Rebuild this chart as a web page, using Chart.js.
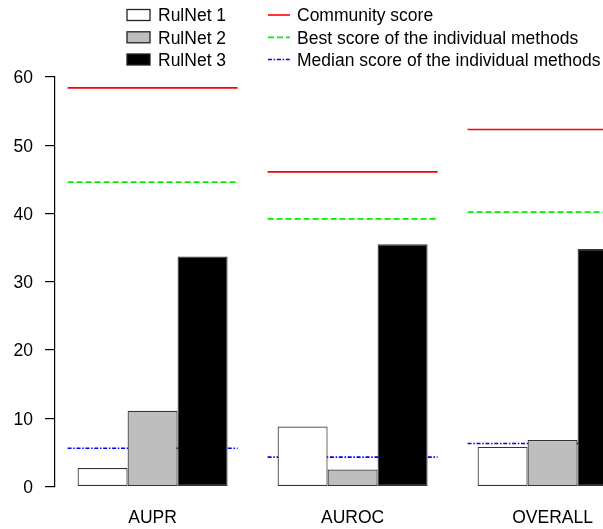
<!DOCTYPE html>
<html>
<head>
<meta charset="utf-8">
<script src="https://cdn.jsdelivr.net/npm/chart.js@4"></script>
<style>
  html, body { margin: 0; padding: 0; overflow: hidden; background: #fff; }
  #wrap { position: relative; width: 655px; height: 529px; }
</style>
</head>
<body>
<div id="wrap"><canvas id="chart"></canvas></div>
<script>
// values
const categories = ['AUPR', 'AUROC', 'OVERALL'];
const rulnet1 = [2.7, 8.8, 5.8];
const rulnet2 = [11.1, 2.5, 6.8];
const rulnet3 = [33.7, 35.5, 34.8];
const communityScore = [58.4, 46.1, 52.3];
const bestIndividual = [44.6, 39.2, 40.2];
const medianIndividual = [5.6, 4.3, 6.3];
const yMin = 0, yMax = 60, yStep = 10;

const FONT = '"Liberation Sans", Arial, Helvetica, sans-serif';
Chart.defaults.font.family = FONT;
Chart.defaults.color = '#000';

// everything sits on one linear x axis: category i at x = i
const points = (vals) => vals.map((v, i) => ({ x: i, y: v }));
// horizontal segment across each group, slightly wider than the bars
const segments = (vals) => {
    const pts = [];
    vals.forEach((v, i) => {
        pts.push({ x: i - 0.425, y: v }, { x: i + 0.425, y: v }, { x: i + 0.5, y: null });
    });
    return pts;
};

// R-style legend: filled boxes in the left column, line samples in the right one
const rLegend = {
    id: 'rLegend',
    afterDraw(chart) {
        const ctx = chart.ctx;
        const rows = [15, 37.3, 59.5];
        ctx.save();
        ctx.font = '17.5px ' + FONT;
        ctx.textBaseline = 'middle';
        let bi = 0, li = 0;
        chart.data.datasets.forEach(ds => {
            if (ds.type === 'line') {
                const y = rows[li++];
                ctx.strokeStyle = ds.borderColor;
                ctx.lineWidth = ds.borderWidth;
                ctx.setLineDash(ds.borderDash || []);
                ctx.beginPath();
                ctx.moveTo(268, y);
                ctx.lineTo(290, y);
                ctx.stroke();
                ctx.setLineDash([]);
                ctx.fillStyle = '#000';
                ctx.fillText(ds.label, 297, y + 1.5);
            } else {
                const y = rows[bi++];
                ctx.fillStyle = ds.backgroundColor;
                ctx.fillRect(127, y - 5.5, 23, 11);
                ctx.strokeStyle = '#222';
                ctx.lineWidth = 1.3;
                ctx.strokeRect(127, y - 5.5, 23, 11);
                ctx.fillStyle = '#000';
                ctx.fillText(ds.label, 158, y + 1.5);
            }
        });
        ctx.restore();
    }
};

const barStyle = { type: 'bar', borderColor: '#333', borderWidth: 1.2, borderSkipped: false,
                   categoryPercentage: 0.75, barPercentage: 1 };
const lineStyle = { type: 'line', pointRadius: 0, spanGaps: false, fill: false };

new Chart(document.getElementById('chart'), {
    type: 'bar',
    data: {
        datasets: [
            { label: 'RulNet 1', data: points(rulnet1), backgroundColor: '#ffffff', ...barStyle },
            { label: 'RulNet 2', data: points(rulnet2), backgroundColor: '#bebebe', ...barStyle },
            { label: 'RulNet 3', data: points(rulnet3), backgroundColor: '#000000', ...barStyle },
            { label: 'Community score', data: segments(communityScore),
              borderColor: '#ff0000', borderWidth: 1.6, ...lineStyle },
            { label: 'Best score of the individual methods', data: segments(bestIndividual),
              borderColor: '#00ee00', borderWidth: 1.8, borderDash: [6, 3], ...lineStyle },
            { label: 'Median score of the individual methods', data: segments(medianIndividual),
              borderColor: '#0000ff', borderWidth: 1.6, borderDash: [4, 1.7, 1.5, 1.7], ...lineStyle }
        ]
    },
    options: {
        responsive: true,
        maintainAspectRatio: false,
        animation: false,
        layout: { padding: { top: 77, left: 0, right: 0, bottom: 0 } },
        plugins: { legend: { display: false }, tooltip: { enabled: false } },
        scales: {
            x: {
                type: 'linear',
                offset: false,
                // R leaves a little less room before the first group than half a slot
                min: -0.488,
                max: categories.length - 0.488,
                afterBuildTicks(axis) { axis.ticks = categories.map((_, i) => ({ value: i })); },
                grid: { display: false, drawTicks: false },
                border: { display: false },
                ticks: {
                    font: { size: 17.5 }, padding: 21, color: '#000', maxRotation: 0,
                    callback: (v) => categories[v]
                },
                afterFit(axis) { axis.height = 42.5; }
            },
            y: {
                min: yMin,
                max: yMax,
                ticks: { stepSize: yStep, font: { size: 17.5 }, padding: 12, color: '#000', labelOffset: 1.5 },
                grid: { drawOnChartArea: false, tickLength: 10, color: '#000', lineWidth: 1.2 },
                border: { color: '#000', width: 1.2 },
                afterFit(axis) { axis.width = 55; }
            }
        }
    },
    plugins: [rLegend]
});
</script>
</body>
</html>
